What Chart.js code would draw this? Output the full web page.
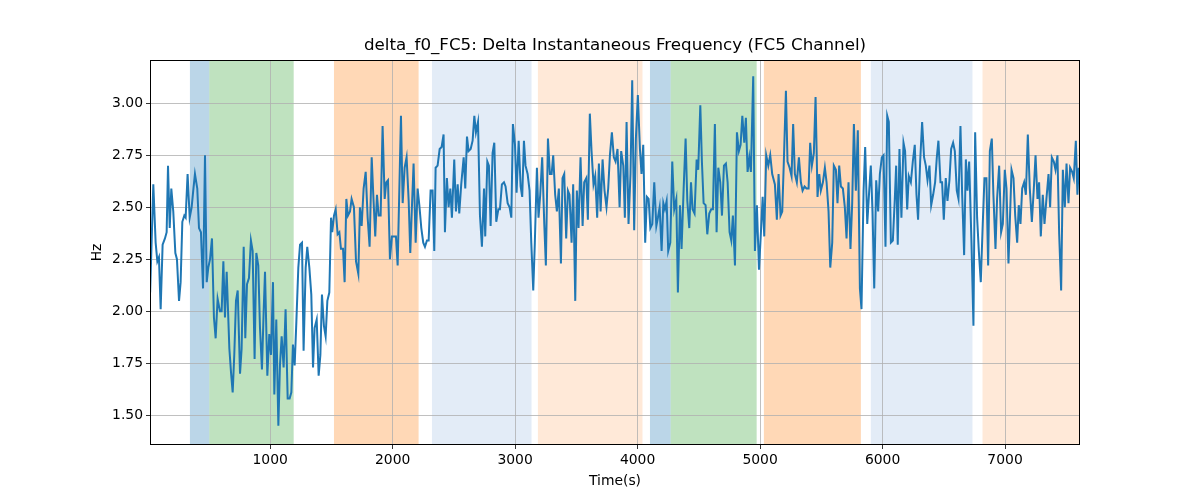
<!DOCTYPE html>
<html>
<head>
<meta charset="utf-8">
<script src="https://cdn.jsdelivr.net/npm/chart.js@4/dist/chart.umd.min.js"></script>
<style>
  html, body { margin: 0; padding: 0; background: #fff; }
  #wrap { width: 1200px; height: 500px; }
</style>
</head>
<body>
<div id="wrap"><canvas id="chartFreq" width="1200" height="500"></canvas></div>
<script>
// sample times (s) and delta frequency values (Hz)
const times = [
  20,46,65,79,92,106,122,141,155,166,180,193,209,226,239,256,269,283,299,310,326,343,359,372,386,405,419,435,452,468,482,495,509,525,541,555,571,590,604,618,631,645,667,680,694,707,721,735,754,767,784,797,811,827,843,857,873,887,903,917,933,947,958,977,993,1007,1023,1034,
  1050,1067,1080,1094,1110,1126,1143,1159,1173,1186,1200,1214,1230,1244,1260,1273,1290,1303,1320,1336,1350,1363,1380,1396,1410,1423,1439,1453,1467,1483,1497,1507,1521,1535,1551,1565,1578,1595,1608,1622,1635,1652,1665,1684,1701,1720,1733,1747,1763,1780,1796,1812,1829,1842,1858,1872,1886,1902,1918,1935,1948,1962,1978,1994,2008,2027,
  2041,2068,2082,2098,2114,2131,2144,2158,2171,2188,2204,2218,2234,2250,2264,2280,2294,2310,2326,2340,2351,2367,2384,2400,2416,2427,2443,2457,2471,2484,2503,2517,2531,2544,2560,2580,2593,2607,2620,2637,2653,2667,2680,2697,2713,2729,2746,2756,2773,2786,2800,2816,2830,2846,2863,2876,2892,2909,2922,2939,2955,2969,2982,2999,3012,3029,3045,
  3058,3072,3085,3102,3118,3132,3148,3161,3178,3191,3205,3221,3238,3251,3268,3284,3298,3311,3327,3341,3357,3374,3387,3401,3417,3431,3444,3461,3474,3491,3504,3518,3534,3551,3564,3581,3594,3610,3624,3640,3654,3670,3684,3698,3714,3730,3746,3760,3774,3790,3806,3820,3836,3853,3866,3883,3896,3910,3926,3942,3956,3972,3986,4002,4019,4032,4046,4062,4076,
  4090,4104,4120,4136,4153,4166,4180,4196,4210,4223,4237,4250,4267,4283,4299,4316,4329,4346,4359,4376,4392,4406,4422,4436,4449,4465,4482,4495,4512,4525,4539,4555,4569,4585,4601,4615,4631,4645,4659,4675,4689,4705,4721,4735,4751,4765,4778,4795,4811,4827,4841,4855,4871,4884,4898,4912,4925,4944,4958,4974,4991,5007,5021,5034,5050,5067,5083,5099,
  5121,5137,5151,5167,5181,5194,5211,5224,5241,5257,5270,5284,5300,5317,5333,5347,5363,5379,5396,5409,5423,5439,5453,5469,5483,5496,5513,5529,5543,5559,5573,5589,5602,5619,5632,5646,5660,5676,5692,5706,5722,5738,5752,5766,5782,5798,5815,5828,5845,5858,5875,5891,5904,5918,5932,5948,5964,5978,5994,6008,6024,6038,6051,6068,6084,6100,
  6111,6124,6138,6154,6171,6184,6201,6214,6231,6247,6263,6277,6290,6307,6323,6339,6353,6367,6383,6397,6413,6429,6443,6456,6473,6486,6500,6516,6530,6546,6560,6576,6590,6606,6620,6636,6650,6666,6680,6693,6707,6726,6742,6756,6772,6786,6802,6818,6832,6848,6862,6876,6892,6905,6922,6935,6952,6968,6982,6998,7012,7028,
  7053,7069,7083,7099,7112,7126,7140,7156,7170,7186,7202,7219,7235,7249,7265,7278,7292,7308,7322,7338,7355,7368,7382,7398,7412,7428,7442,7458,7472,7488,7502,7518,7531,7548,7561,7578,7591,7602
];
const hz = [
  2.09,2.61,2.33,2.24,2.26,2.01,2.32,2.35,2.38,2.70,2.40,2.59,2.48,2.28,2.25,2.05,2.14,2.43,2.46,2.45,2.66,2.45,2.50,2.58,2.66,2.59,2.40,2.38,2.11,2.75,2.14,2.21,2.25,2.35,1.97,1.87,2.06,2.00,2.00,2.24,1.97,2.19,1.82,1.71,1.61,1.79,2.05,2.10,1.70,1.82,2.31,1.87,2.13,2.16,2.34,2.29,1.77,2.28,2.22,1.92,1.72,2.00,2.19,1.69,1.89,1.79,2.14,1.60,
  1.96,1.45,1.74,1.88,1.73,2.01,1.58,1.58,1.61,1.84,1.74,1.95,2.21,2.32,2.33,1.81,2.21,2.31,2.21,2.08,1.73,1.92,1.96,1.69,1.79,2.08,1.93,1.88,2.05,2.09,2.45,2.38,2.46,2.49,2.37,2.38,2.30,2.30,2.14,2.54,2.46,2.48,2.54,2.50,2.24,2.18,2.50,2.41,2.59,2.67,2.45,2.31,2.74,2.56,2.36,2.56,2.46,2.46,2.89,2.54,2.62,2.63,2.25,2.36,2.36,2.36,
  2.22,2.94,2.52,2.69,2.74,2.53,2.28,2.51,2.71,2.33,2.59,2.51,2.40,2.33,2.31,2.34,2.34,2.58,2.58,2.29,2.69,2.70,2.78,2.79,2.85,2.38,2.64,2.50,2.59,2.45,2.73,2.48,2.61,2.47,2.61,2.74,2.59,2.84,2.77,2.78,2.82,2.94,2.86,2.91,2.46,2.31,2.59,2.36,2.72,2.70,2.41,2.76,2.81,2.43,2.49,2.49,2.61,2.62,2.60,2.52,2.50,2.45,2.90,2.80,2.57,2.82,2.60,
  2.55,2.82,2.70,2.66,2.58,2.33,2.10,2.33,2.69,2.45,2.56,2.74,2.42,2.22,2.83,2.66,2.66,2.75,2.56,2.48,2.59,2.23,2.64,2.66,2.35,2.58,2.56,2.33,2.61,2.05,2.58,2.40,2.74,2.41,2.62,2.64,2.44,2.95,2.77,2.61,2.65,2.45,2.71,2.48,2.73,2.58,2.50,2.59,2.75,2.86,2.74,2.72,2.78,2.50,2.77,2.70,2.45,2.91,2.42,2.66,3.11,2.39,2.83,3.04,2.78,2.66,2.80,2.33,2.55,
  2.54,2.40,2.42,2.62,2.41,2.45,2.50,2.29,2.52,2.49,2.53,2.29,2.33,2.72,2.49,2.54,2.09,2.51,2.30,2.59,2.83,2.53,2.40,2.62,2.49,2.47,2.73,2.68,2.99,2.72,2.52,2.51,2.37,2.47,2.49,2.49,2.90,2.38,2.69,2.62,2.46,2.70,2.71,2.62,2.38,2.34,2.46,2.22,2.86,2.77,2.80,2.94,2.81,2.93,2.67,2.74,2.67,3.13,2.29,2.51,2.20,2.38,2.55,2.36,2.75,2.70,2.75,2.66,
  2.61,2.44,2.66,2.46,2.48,2.72,3.06,2.72,2.69,2.65,2.90,2.66,2.62,2.74,2.62,2.58,2.60,2.59,2.59,2.81,2.70,2.76,3.03,2.55,2.66,2.58,2.62,2.69,2.62,2.48,2.21,2.33,2.70,2.68,2.52,2.70,2.60,2.59,2.50,2.35,2.62,2.30,2.52,2.90,2.58,2.87,2.11,2.01,2.58,2.79,2.42,2.58,2.70,2.48,2.11,2.63,2.48,2.66,2.74,2.75,2.31,2.94,2.91,2.33,2.34,2.54,
  2.70,2.32,2.78,2.45,2.81,2.77,2.49,2.65,2.62,2.72,2.80,2.56,2.44,2.72,2.91,2.74,2.70,2.63,2.70,2.51,2.56,2.62,2.74,2.82,2.62,2.62,2.44,2.64,2.53,2.63,2.78,2.81,2.77,2.58,2.54,2.89,2.56,2.27,2.73,2.58,2.72,2.33,1.93,2.86,2.45,2.29,2.14,2.42,2.64,2.64,2.22,2.77,2.83,2.56,2.30,2.54,2.70,2.38,2.42,2.68,2.59,2.23,
  2.68,2.64,2.46,2.33,2.51,2.42,2.59,2.62,2.56,2.85,2.59,2.43,2.59,2.75,2.54,2.62,2.36,2.56,2.42,2.54,2.66,2.50,2.74,2.72,2.68,2.75,2.37,2.10,2.68,2.50,2.71,2.52,2.69,2.67,2.64,2.82,2.56,2.69
];

// shaded time segments
const spanStart = [345, 503, 1521, 2321, 3186, 4101, 4270, 5031, 5904, 6816];
const spanEnd   = [503, 1192, 2212, 3134, 4040, 4270, 4972, 5823, 6734, 7700];
const spanKind  = ["blue", "green", "orange", "lightblue", "lightorange", "blue", "green", "orange", "lightblue", "lightorange"];

const xTicks = [1000, 2000, 3000, 4000, 5000, 6000, 7000];
const yTicks = [1.5, 1.75, 2.0, 2.25, 2.5, 2.75, 3.0];
const xRange = [19, 7612];
const yRange = [1.357, 3.208];

const spanColors = {
  blue: "rgba(31,119,180,0.3)",
  green: "rgba(44,160,44,0.3)",
  orange: "rgba(255,127,14,0.3)",
  lightblue: "#e3ecf7",
  lightorange: "#ffe9d8"
};

const FONT = "DejaVu Sans";
Chart.defaults.font.family = FONT;
Chart.defaults.font.size = 13.9;
Chart.defaults.color = "#000";

const decor = {
  id: "decor",
  beforeDraw(chart) {
    const { ctx, chartArea: a, scales: { x } } = chart;
    ctx.save();
    ctx.fillStyle = "#fff";
    ctx.fillRect(0, 0, chart.width, chart.height);
    for (let i = 0; i < spanStart.length; i++) {
      const x0 = Math.max(a.left, x.getPixelForValue(spanStart[i]));
      const x1 = Math.min(a.right, x.getPixelForValue(spanEnd[i]));
      ctx.fillStyle = spanColors[spanKind[i]];
      ctx.fillRect(x0, a.top, x1 - x0, a.bottom - a.top);
    }
    ctx.restore();
  },
  afterDatasetsDraw(chart) {
    const { ctx, chartArea: a } = chart;
    ctx.save();
    ctx.strokeStyle = "#000";
    ctx.lineWidth = 1;
    ctx.strokeRect(Math.round(a.left) + 0.5, Math.round(a.top) + 0.5,
                   Math.round(a.right - a.left) - 1, Math.round(a.bottom - a.top) - 1);
    ctx.restore();
  },
  afterDraw(chart) {
    const { ctx, chartArea: a } = chart;
    const cx = (a.left + a.right) / 2;
    ctx.save();
    ctx.fillStyle = "#000";
    ctx.textAlign = "center";
    ctx.textBaseline = "middle";
    ctx.font = "16.7px '" + FONT + "'";
    ctx.fillText("delta_f0_FC5: Delta Instantaneous Frequency (FC5 Channel)", cx, 46);
    ctx.font = "13.9px '" + FONT + "'";
    ctx.fillText("Time(s)", cx, 481);
    ctx.translate(97, (a.top + a.bottom) / 2);
    ctx.rotate(-Math.PI / 2);
    ctx.fillText("Hz", 0, 0);
    ctx.restore();
  }
};

const config = {
  type: "line",
  data: {
    datasets: [{
      label: "delta_f0_FC5",
      data: times.map((t, i) => ({ x: t, y: hz[i] })),
      borderColor: "#1f77b4",
      borderWidth: 2,
      pointRadius: 0,
      tension: 0,
      fill: false
    }]
  },
  options: {
    responsive: false,
    animation: false,
    layout: { padding: { top: 60, right: 120, left: 0, bottom: 0 } },
    plugins: { legend: { display: false }, title: { display: false }, tooltip: { enabled: false } },
    scales: {
      x: {
        type: "linear",
        min: xRange[0], max: xRange[1],
        afterBuildTicks: s => { s.ticks = xTicks.map(v => ({ value: v })); },
        afterFit: s => { s.height = 55; },
        ticks: { padding: 3, maxRotation: 0, autoSkip: false, callback: v => String(v) },
        grid: { color: "#b0b0b0", lineWidth: 0.8, tickColor: "#000", tickLength: 4 },
        border: { display: false }
      },
      y: {
        min: yRange[0], max: yRange[1],
        afterBuildTicks: s => { s.ticks = yTicks.map(v => ({ value: v })); },
        afterFit: s => { s.width = 150; },
        ticks: { padding: 3, autoSkip: false, callback: v => Number(v).toFixed(2) },
        grid: { color: "#b0b0b0", lineWidth: 0.8, tickColor: "#000", tickLength: 4 },
        border: { display: false }
      }
    }
  },
  plugins: [decor]
};

var chartFreq = new Chart(document.getElementById("chartFreq"), config);
</script>
</body>
</html>
